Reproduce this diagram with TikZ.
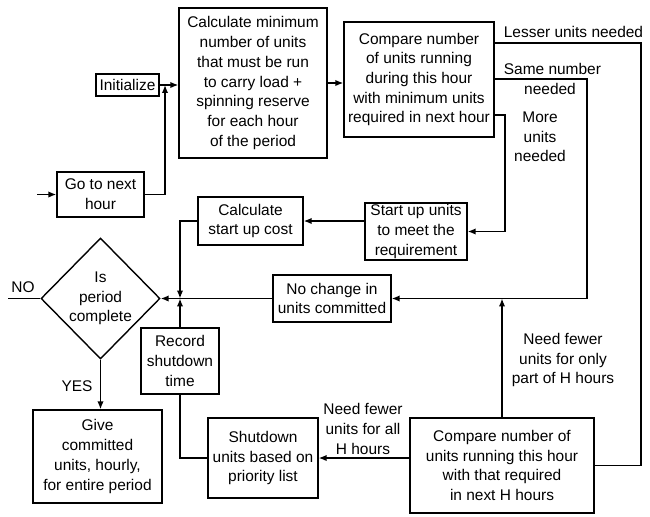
\documentclass[tikz,border=0pt]{standalone}
\usepackage{fontspec}
\setsansfont{Liberation Sans}
\usetikzlibrary{arrows.meta,shapes.geometric}

\begin{document}
\begin{tikzpicture}[font=\sffamily\fontsize{8.8}{11.2}\selectfont,
  box/.style={draw, line width=0.8pt, align=center, inner sep=1pt},
  decision/.style={draw, diamond, line width=0.8pt, align=center, inner sep=0pt},
  arr/.style={-{Latex[length=4.5pt,width=3.6pt]}, line width=0.8pt},
  wire/.style={line width=0.8pt}]
  \useasboundingbox (0,0) rectangle (13,10.32);

  % Top row: initialize, minimum units, first comparison
  \node[box, minimum width=1.26cm, minimum height=0.44cm] (init) at (2.55, 8.62) {Initialize};
  \node[box, minimum width=2.96cm, minimum height=3.0cm] (calc) at (5.06, 8.66)
    {Calculate minimum\\number of units\\that must be run\\to carry load +\\spinning reserve\\for each hour\\of the period};
  \node[box, minimum width=3.0cm, minimum height=2.3cm] (cmpnext) at (8.38, 8.73)
    {Compare number\\of units running\\during this hour\\with minimum units\\required in next hour};
  \node[box, minimum width=1.74cm, minimum height=0.9cm] (gonext) at (2.01, 6.43) {Go to next\\hour};

  % Middle row: start up and cost
  \node[box, minimum width=2.04cm, minimum height=0.86cm] (startup) at (8.32, 5.69) {Start up units\\to meet the\\requirement};
  \node[box, minimum width=2.1cm, minimum height=0.96cm] (cost) at (5.01, 5.90) {Calculate\\start up cost};

  % Decision and no-change branch
  \node[decision, minimum width=2.38cm, minimum height=2.42cm] (decide) at (2.01, 4.35) {Is\\period\\complete};
  \node[box, minimum width=2.36cm, minimum height=0.94cm] (nochange) at (6.64, 4.35) {No change in\\units committed};
  \node[box, minimum width=1.56cm, minimum height=1.32cm] (record) at (3.6, 3.10) {Record\\shutdown\\time};

  % Bottom row
  \node[box, minimum width=2.58cm, minimum height=1.86cm] (give) at (1.95, 1.19) {Give\\committed\\units, hourly,\\for entire period};
  \node[box, minimum width=2.2cm, minimum height=1.6cm] (shutdown) at (5.26, 1.16) {Shutdown\\units based on\\priority list};
  \node[box, minimum width=3.68cm, minimum height=1.9cm] (cmphours) at (10.04, 1.01)
    {Compare number of\\units running this hour\\with that required\\in next H hours};

  % Junctions and free ends
  \coordinate (jinit) at (3.3, 8.62);
  \coordinate (jdecide) at (3.6, 4.35);
  \coordinate (gostart) at (0.74, 6.43);
  \coordinate (noend) at (0.16, 4.35);
  \coordinate (lessR) at (12.82, 9.46);
  \coordinate (sameR) at (11.74, 8.74);
  \coordinate (moreR) at (10.1, 8.02);

  % Connectors
  \draw[arr] (gostart) -- (gonext.west);
  \draw[arr] (gonext.east) -| (jinit);
  \draw[arr] (init.east) -- (init.east -| calc.west);
  \draw[arr] (calc.east) -- (calc.east -| cmpnext.west);
  \draw[wire] (cmpnext.east |- lessR) -- (lessR) |- (cmphours.east);
  \draw[arr] (cmpnext.east |- sameR) -- (sameR) |- (nochange.east);
  \draw[arr] (cmpnext.east |- moreR) -- (moreR) |- (startup.east);
  \draw[arr] (startup.west |- cost.east) -- (cost.east);
  \draw[arr] (cost.west) -| (jdecide);
  \draw[arr] (nochange.west) -- (decide.east);
  \draw[arr] (record.north) -- (jdecide);
  \draw[arr] (decide.south) -- (decide.south |- give.north);
  \draw[wire] (decide.west) -- (noend);
  \draw[wire] (shutdown.west) -| (record.south);
  \draw[arr] (cmphours.west |- shutdown.east) -- (shutdown.east);
  \draw[arr] (cmphours.north) -- (cmphours.north |- nochange.east);

  % Branch labels
  \node[anchor=south west, inner sep=1pt] (lblless) at ([xshift=4pt, yshift=2pt]cmpnext.east |- lessR) {Lesser units needed};
  \node[anchor=south west, inner sep=1pt] (lblsame) at ([xshift=4pt, yshift=1pt]cmpnext.east |- sameR) {Same number};
  \node[anchor=north, inner sep=1pt] (lblneeded) at ([yshift=-1pt]11.0, 8.74) {needed};
  \node[align=center] (lblmore) at (10.8, 7.58) {More\\units\\needed};
  \node (lblno) at (0.46, 4.57) {NO};
  \node (lblyes) at (1.54, 2.6) {YES};
  \node[align=center] (lblall) at (7.26, 1.74) {Need fewer\\units for all\\H hours};
  \node[align=center] (lblpart) at (11.26, 3.12) {Need fewer\\units for only\\part of H hours};
\end{tikzpicture}
\end{document}
